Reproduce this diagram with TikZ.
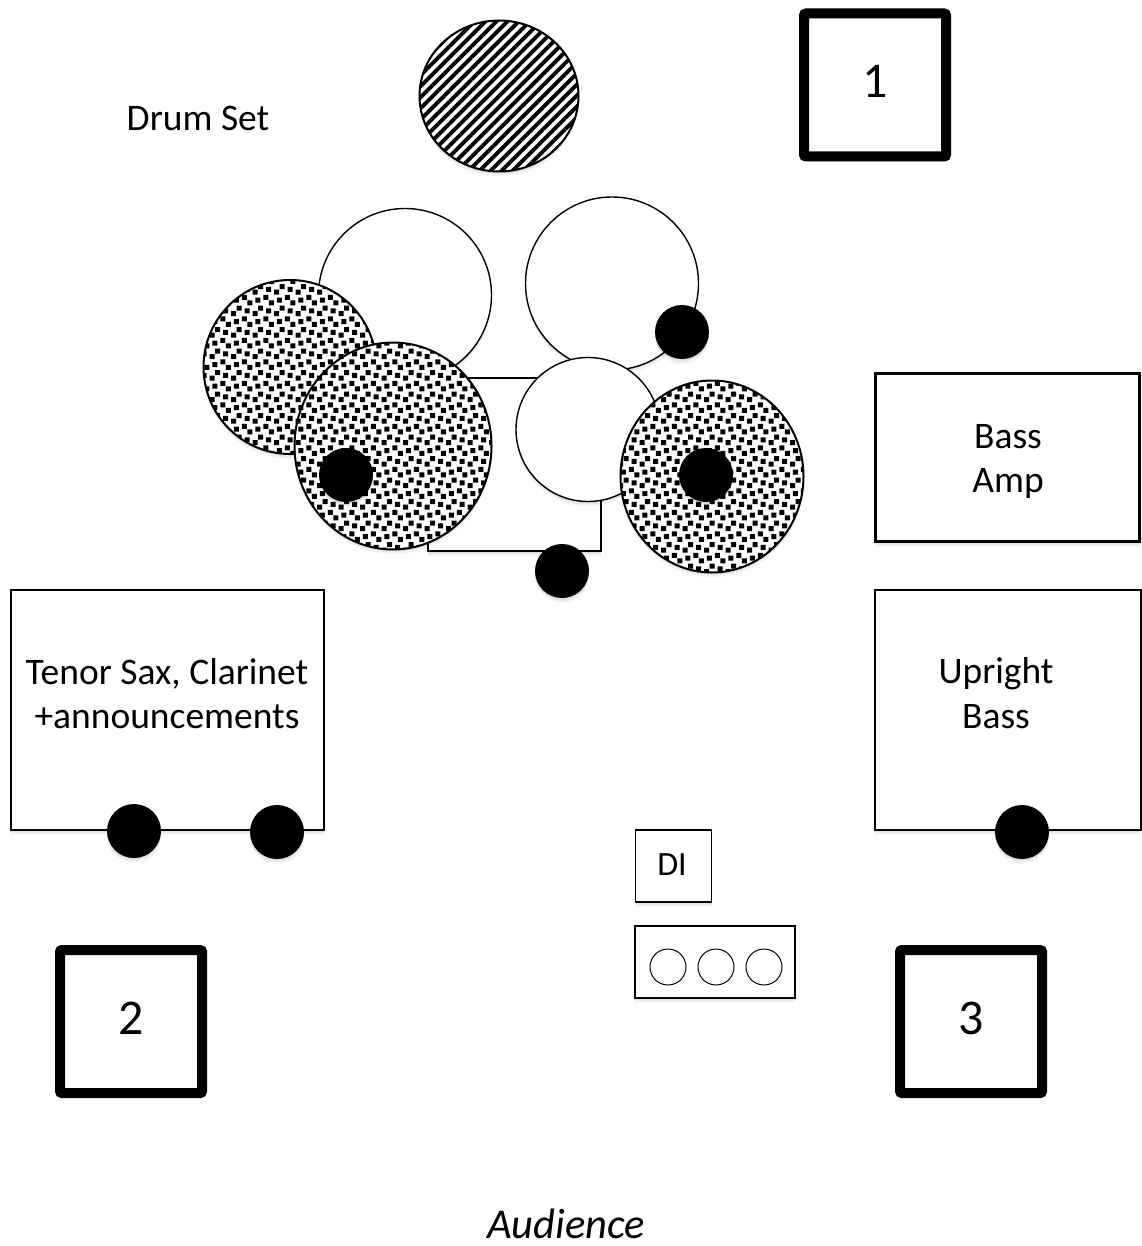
\documentclass[tikz,border=0pt]{standalone}
\usepackage{fontspec}
\setmainfont{Carlito}
\usetikzlibrary{shapes.geometric,patterns.meta,shadows}
\newcommand{\cfsq}[2]{\pgfpathrectangle{\pgfqpoint{#1pt}{#2pt}}{\pgfqpoint{5.1pt}{5.1pt}}}
\pgfdeclarepatternformonly{confettiq}{\pgfqpoint{-1pt}{-1pt}}{\pgfqpoint{25pt}{25pt}}{\pgfqpoint{21.5pt}{21.5pt}}{%
  \cfsq{10.75}{16.125}\cfsq{18.81}{18.81}\cfsq{5.375}{0}%
  \cfsq{0}{10.75}\cfsq{8.06}{8.06}\cfsq{16.125}{5.375}%
  \pgfusepath{fill}}
\tikzset{
  x=1pt,y=-1pt,
  softshadow/.style={
    general shadow={fill=black,opacity=.05,shadow xshift=0pt,shadow yshift=-1.5pt},
    general shadow={fill=black,opacity=.05,shadow xshift=0pt,shadow yshift=-3pt},
    general shadow={fill=black,opacity=.04,shadow xshift=0pt,shadow yshift=-5pt}},
  thinbox/.style={draw=black,line width=1.25pt,fill=white,rectangle,inner sep=0pt,softshadow},
  monitor/.style={draw=black,line width=10pt,fill=white,rectangle,rounded corners=2pt,inner sep=0pt,minimum width=142pt,minimum height=143pt,softshadow},
  disc/.style={draw=black,line width=1.4pt,fill=white,circle,inner sep=0pt,softshadow},
  dotted disc/.style={draw=black,line width=2pt,ellipse,inner sep=0pt,softshadow,fill=white,
    postaction={pattern=confettiq,pattern color=black}},
  mic/.style={circle,fill=black,draw=none,inner sep=0pt,minimum size=54pt,softshadow},
  port/.style={draw=black,line width=1pt,fill=white,circle,inner sep=0pt,minimum size=36pt},
  label/.style={inner sep=0pt,font=\fontsize{37.5}{45}\selectfont},
  number/.style={inner sep=0pt,font=\fontsize{50}{56}\selectfont}
}
\begin{document}
\begin{tikzpicture}
\useasboundingbox (0,0) rectangle (1141,1246);
\node[label] (drumlabel) at (198,118) {Drum Set};
\node[draw=black,line width=2pt,ellipse,inner sep=0pt,minimum width=159pt,minimum height=151pt,fill=white,softshadow,
  postaction={pattern={Lines[angle=45,distance=7.8pt,line width=3.9pt]},pattern color=black}] (hatch) at (499,96) {};
\node[monitor] (mon1) at (875,85) {};
\node[number] (n1) at (875,81) {1};
\node[disc,minimum size=173pt] (tom1) at (405,295) {};
\node[disc,minimum size=173pt] (tom2) at (612,283.5) {};
\node[thinbox,minimum width=173pt,minimum height=173pt] (kit) at (514.5,464.5) {};
\node[dotted disc,minimum width=173pt,minimum height=174pt] (cymL) at (290,367) {};
\node[dotted disc,minimum width=197pt,minimum height=207pt] (cymB) at (393,446) {};
\node[disc,minimum size=144pt] (snare) at (588,429.5) {};
\node[dotted disc,minimum width=183pt,minimum height=192pt] (cymR) at (712,476.5) {};
\node[mic] (m1) at (682,332) {};
\node[mic] (m2) at (346,475) {};
\node[mic] (m3) at (706,475) {};
\node[mic] (m4) at (562,571) {};
\node[thinbox,line width=3pt,minimum width=264pt,minimum height=168pt] (amp) at (1007.5,457.5) {};
\node[label] (amp1) at (1008,436.5) {Bass};
\node[label] (amp2) at (1008,483) {Amp};
\node[thinbox,minimum width=313pt,minimum height=240pt] (sax) at (167.5,710) {};
\node[label] (sax1) at (167,674) {Tenor Sax, Clarinet};
\node[label] (sax2) at (167,717) {+announcements};
\node[thinbox,minimum width=266pt,minimum height=240pt] (bass) at (1008,710) {};
\node[label] (bass1) at (996,674) {Upright};
\node[label] (bass2) at (996,717) {Bass};
\node[mic] (m5) at (134,831) {};
\node[mic] (m6) at (277,832) {};
\node[mic] (m7) at (1022,832) {};
\node[thinbox,minimum width=76pt,minimum height=72pt] (di) at (673.5,866) {};
\node[inner sep=0pt,font=\fontsize{34}{40}\selectfont] (dilabel) at (672,865) {DI};
\node[thinbox,minimum width=160pt,minimum height=72pt] (strip) at (715,962) {};
\node[port] (p1) at (668,967) {};
\node[port] (p2) at (716,967) {};
\node[port] (p3) at (764,967) {};
\node[monitor] (mon2) at (131,1021.5) {};
\node[number] (n2) at (131,1018) {2};
\node[monitor] (mon3) at (971,1021.5) {};
\node[number] (n3) at (971,1018) {3};
\node[inner sep=0pt,font=\itshape\fontsize{42.5}{50}\selectfont] (aud) at (566,1224) {Audience};
\end{tikzpicture}
\end{document}
